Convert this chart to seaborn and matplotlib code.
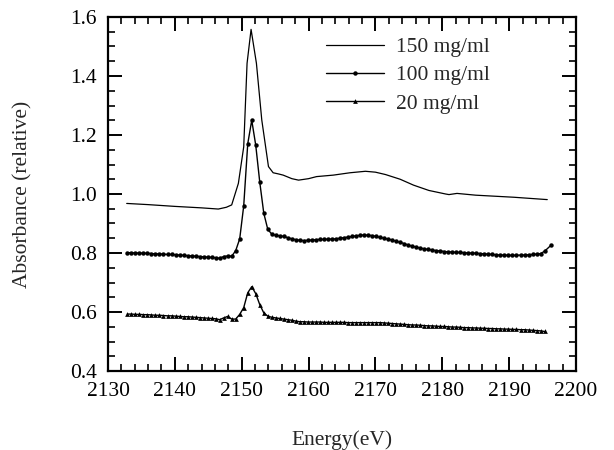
import matplotlib
matplotlib.use("Agg")
import matplotlib.pyplot as plt
import seaborn as sns
from matplotlib.ticker import MultipleLocator

# ---------------- data ----------------
energy_150 = [2132.8, 2136.0, 2140.0, 2144.0, 2146.5, 2147.7, 2148.5, 2149.5, 2150.3,
              2150.8, 2151.4, 2152.2, 2153.0, 2154.0, 2154.7, 2155.5, 2156.2, 2157.5,
              2158.5, 2160.0, 2161.2, 2163.7, 2166.2, 2168.5, 2170.0, 2171.5, 2173.7,
              2175.7, 2178.0, 2180.5, 2181.0, 2182.2, 2185.0, 2190.7, 2195.7]
abs_150 = [0.968, 0.964, 0.958, 0.953, 0.949, 0.955, 0.963, 1.036, 1.160,
           1.443, 1.558, 1.443, 1.251, 1.093, 1.072, 1.068, 1.064, 1.052,
           1.047, 1.052, 1.059, 1.064, 1.072, 1.077, 1.074, 1.066, 1.050,
           1.030, 1.012, 1.000, 0.998, 1.002, 0.996, 0.989, 0.981]

energy_grid = [2132.9, 2133.5, 2134.1, 2134.7, 2135.3, 2135.9, 2136.5, 2137.1, 2137.7, 2138.3,
               2138.9, 2139.5, 2140.1, 2140.7, 2141.3, 2141.9, 2142.5, 2143.1, 2143.7, 2144.3,
               2144.9, 2145.5, 2146.1, 2146.7, 2147.3, 2147.9, 2148.5, 2149.1, 2149.7, 2150.3,
               2150.9, 2151.5, 2152.1, 2152.7, 2153.3, 2153.9, 2154.5, 2155.1, 2155.7, 2156.3,
               2156.9, 2157.5, 2158.1, 2158.7, 2159.3, 2159.9, 2160.5, 2161.1, 2161.7, 2162.3,
               2162.9, 2163.5, 2164.1, 2164.7, 2165.3, 2165.9, 2166.5, 2167.1, 2167.7, 2168.3,
               2168.9, 2169.5, 2170.1, 2170.7, 2171.3, 2171.9, 2172.5, 2173.1, 2173.7, 2174.3,
               2174.9, 2175.5, 2176.1, 2176.7, 2177.3, 2177.9, 2178.5, 2179.1, 2179.7, 2180.3,
               2180.9, 2181.5, 2182.1, 2182.7, 2183.3, 2183.9, 2184.5, 2185.1, 2185.7, 2186.3,
               2186.9, 2187.5, 2188.1, 2188.7, 2189.3, 2189.9, 2190.5, 2191.1, 2191.7, 2192.3,
               2192.9, 2193.5, 2194.1, 2194.7, 2195.3]

energy_100 = energy_grid + [2196.3]
abs_100 = [0.801, 0.801, 0.800, 0.800, 0.799, 0.799, 0.798, 0.797, 0.797, 0.796,
           0.795, 0.795, 0.794, 0.793, 0.792, 0.791, 0.790, 0.789, 0.788, 0.787,
           0.786, 0.785, 0.784, 0.782, 0.788, 0.790, 0.789, 0.808, 0.848, 0.960,
           1.170, 1.250, 1.165, 1.040, 0.935, 0.880, 0.864, 0.860, 0.858, 0.856,
           0.852, 0.848, 0.845, 0.843, 0.842, 0.843, 0.844, 0.845, 0.846, 0.846,
           0.847, 0.847, 0.848, 0.850, 0.852, 0.854, 0.856, 0.858, 0.860, 0.861,
           0.860, 0.859, 0.856, 0.853, 0.850, 0.847, 0.844, 0.840, 0.836, 0.832,
           0.827, 0.823, 0.820, 0.817, 0.814, 0.812, 0.810, 0.808, 0.807, 0.805,
           0.804, 0.803, 0.802, 0.802, 0.801, 0.800, 0.800, 0.799, 0.798, 0.797,
           0.796, 0.795, 0.794, 0.793, 0.793, 0.792, 0.792, 0.792, 0.793, 0.793,
           0.794, 0.795, 0.796, 0.798, 0.806, 0.827]

energy_20 = energy_grid
abs_20 = [0.593, 0.593, 0.592, 0.592, 0.591, 0.591, 0.590, 0.589, 0.589, 0.588,
          0.587, 0.587, 0.586, 0.585, 0.584, 0.584, 0.583, 0.582, 0.581, 0.580,
          0.579, 0.578, 0.577, 0.574, 0.580, 0.585, 0.576, 0.576, 0.592, 0.615,
          0.665, 0.686, 0.662, 0.625, 0.597, 0.586, 0.582, 0.580, 0.578, 0.576,
          0.574, 0.572, 0.569, 0.567, 0.567, 0.566, 0.566, 0.566, 0.566, 0.565,
          0.565, 0.565, 0.565, 0.565, 0.565, 0.564, 0.564, 0.564, 0.564, 0.564,
          0.564, 0.564, 0.564, 0.564, 0.563, 0.562, 0.561, 0.560, 0.559, 0.558,
          0.557, 0.556, 0.556, 0.555, 0.554, 0.553, 0.553, 0.552, 0.551, 0.551,
          0.550, 0.549, 0.549, 0.548, 0.547, 0.547, 0.546, 0.546, 0.545, 0.545,
          0.544, 0.544, 0.543, 0.543, 0.542, 0.542, 0.541, 0.541, 0.540, 0.540,
          0.539, 0.538, 0.537, 0.536, 0.534]

labels = ["150 mg/ml", "100 mg/ml", "20 mg/ml"]
x_ticks = [2130, 2140, 2150, 2160, 2170, 2180, 2190, 2200]
y_ticks = [0.4, 0.6, 0.8, 1.0, 1.2, 1.4, 1.6]

# ---------------- style ----------------
sns.set_style("ticks")
plt.rcParams["font.family"] = ["Liberation Serif", "DejaVu Serif"]

fig = plt.figure(figsize=(6.14, 4.50), dpi=100)
ax = fig.add_axes([108 / 614, 1 - 371 / 450, (576 - 108) / 614, (371 - 17) / 450])

sns.lineplot(x=energy_150, y=abs_150, ax=ax, color="black", lw=0.9, label=labels[0])
sns.lineplot(x=energy_100, y=abs_100, ax=ax, color="black", lw=1.0, marker="o",
             markersize=3.2, markeredgewidth=0, label=labels[1])
sns.lineplot(x=energy_20, y=abs_20, ax=ax, color="black", lw=1.0, marker="^",
             markersize=3.4, markeredgewidth=0, label=labels[2])

ax.set_xlim(2130, 2200)
ax.set_ylim(0.4, 1.6)
ax.set_xticks(x_ticks)
ax.set_yticks(y_ticks)
ax.set_xticklabels([str(t) for t in x_ticks])
ax.set_yticklabels([f"{t:.1f}" for t in y_ticks])
ax.xaxis.set_minor_locator(MultipleLocator(2))
ax.yaxis.set_minor_locator(MultipleLocator(0.05))
ax.tick_params(which="both", direction="in", top=True, right=True, colors="black",
               labelsize=15.5)
ax.tick_params(which="major", length=10, width=1.4)
ax.tick_params(which="minor", length=5, width=1.2)
ax.tick_params(axis="x", which="major", pad=8)
ax.tick_params(axis="y", which="major", pad=8)
for s in ax.spines.values():
    s.set_linewidth(1.6)
    s.set_color("black")

ax.set_xlabel("Energy(eV)", fontsize=15.5, labelpad=21)
ax.set_ylabel("Absorbance (relative)", fontsize=15.5, labelpad=27)

leg = ax.legend(loc="upper left", bbox_to_anchor=(326 / 614, 1 - 37 / 450),
                bbox_transform=fig.transFigure, frameon=False, fontsize=15.5,
                handlelength=2.7, handletextpad=0.55, labelspacing=0.38,
                borderpad=0, borderaxespad=0)

fig.savefig("out.png", dpi=100)
